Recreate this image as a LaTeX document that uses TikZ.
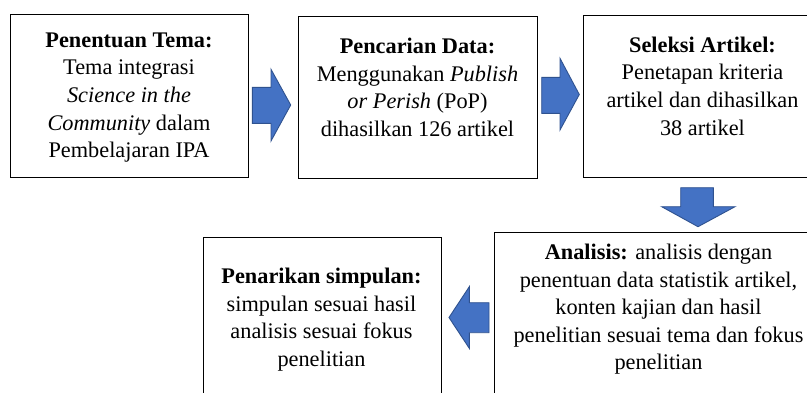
\documentclass[tikz,border=0pt]{standalone}
\usepackage{fontspec}
\setmainfont{LiberationSerif}[Extension=.ttf, UprightFont=*-Regular, BoldFont=*-Bold, ItalicFont=*-Italic, BoldItalicFont=*-BoldItalic]
\definecolor{arrowfill}{HTML}{4472C4}
\definecolor{arrowline}{HTML}{2F528F}
\begin{document}
\begin{tikzpicture}[x=1pt,y=-1pt,
  boxframe/.style={draw=black, line width=1.3pt, inner sep=0pt, anchor=north west},
  boxtext/.style={align=center, inner sep=0pt, anchor=north, font=\rmfamily\fontsize{22.3}{27.6}\selectfont},
  blockarrow/.style={fill=arrowfill, draw=arrowline, line width=0.9pt, line join=miter}]
\useasboundingbox (0,0) rectangle (807,392);
\clip (0,0) rectangle (807,392);
\fill[white] (0,0) rectangle (807,392);
% boxes
\node[boxframe, minimum width=238pt, minimum height=163pt] (b1) at (10,14) {};
\node[boxframe, minimum width=239pt, minimum height=162pt] (b2) at (298,16) {};
\node[boxframe, minimum width=239pt, minimum height=162pt] (b3) at (583,15) {};
\node[boxframe, minimum width=330pt, minimum height=200pt] (b4) at (494,232) {};
\node[boxframe, minimum width=238pt, minimum height=200pt] (b5) at (203,237) {};
% texts
\node[boxtext] (t1) at (129,27.7) {\strut\textbf{Penentuan Tema:}\\Tema integrasi\\\textit{Science in the}\\\textit{Community} dalam\\Pembelajaran IPA};
\node[boxtext] (t2) at (417.5,34) {\strut\textbf{Pencarian Data:}\\Menggunakan \textit{Publish}\\\textit{or Perish} (PoP)\\dihasilkan 126 artikel};
\node[boxtext] (t3) at (702.5,32.7) {\strut\textbf{Seleksi Artikel:}\\Penetapan kriteria\\artikel dan dihasilkan\\38 artikel};
\node[boxtext] (t4) at (658.5,240) {\strut\textbf{Analisis:} analisis dengan\\penentuan data statistik artikel,\\konten kajian dan hasil\\penelitian sesuai tema dan fokus\\penelitian};
\node[boxtext] (t5) at (321.5,264) {\strut\textbf{Penarikan simpulan:}\\simpulan sesuai hasil\\analisis sesuai fokus\\penelitian};
% block arrows
\draw[blockarrow] (252.3,87.3) -- (271,87.3) -- (271,69.3) -- (290.7,105) -- (271,141) -- (271,123.3) -- (252.3,123.3) -- cycle;
\draw[blockarrow] (541.7,77.3) -- (560,77.3) -- (560,58.3) -- (579.3,94.5) -- (560,130) -- (560,113.3) -- (541.7,113.3) -- cycle;
\draw[blockarrow] (680.7,187.7) -- (713.3,187.7) -- (713.3,206.7) -- (735,206.7) -- (698,226.7) -- (661.7,206.7) -- (680.7,206.7) -- cycle;
\draw[blockarrow] (489,302.7) -- (469.3,302.7) -- (469.3,286.7) -- (449,317.5) -- (469.3,348.3) -- (469.3,332.7) -- (489,332.7) -- cycle;
\end{tikzpicture}
\end{document}
